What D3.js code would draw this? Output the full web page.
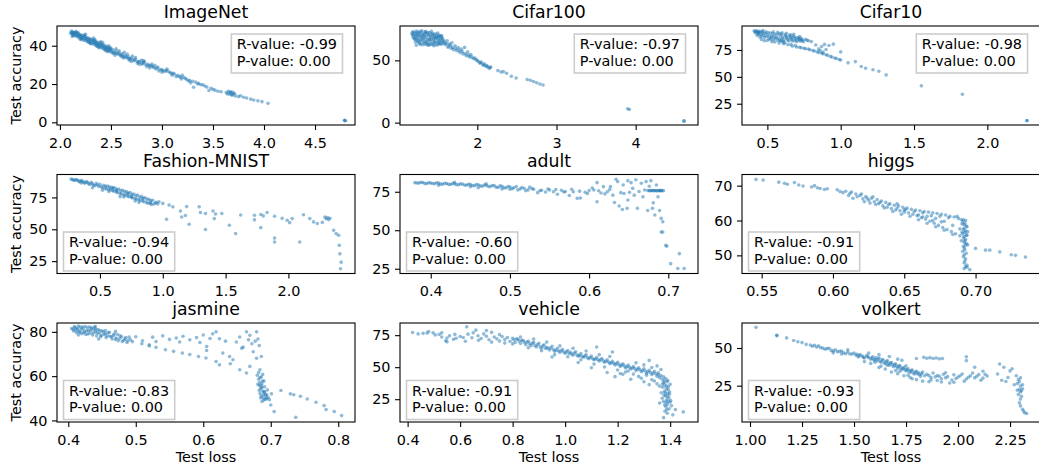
<!DOCTYPE html>
<html><head><meta charset="utf-8">
<script src="https://cdn.jsdelivr.net/npm/d3@7"></script>
<style>
html,body{margin:0;padding:0;background:#fff;}
svg{display:block;font-family:"DejaVu Sans",sans-serif;}
</style></head><body>
<svg id="chart" width="1039" height="465"></svg>
<script>
const titles = ["ImageNet","Cifar100","Cifar10","Fashion-MNIST","adult","higgs","jasmine","vehicle","volkert"];
const rValues = ["-0.99","-0.97","-0.98","-0.94","-0.60","-0.91","-0.83","-0.91","-0.93"];
const pValues = ["0.00","0.00","0.00","0.00","0.00","0.00","0.00","0.00","0.00"];

// [test loss, test accuracy]
const imagenet = [[2.11,47.2],[2.12,46.5],[2.13,47.0],[2.14,46.0],[2.15,46.8],[2.16,45.5],[2.17,46.3],[2.18,45.0],[2.19,46.0],[2.20,44.6],[2.21,45.6],[2.22,44.0],[2.23,45.2],[2.24,43.6],[2.25,44.8],[2.26,43.2],[2.27,44.2],[2.28,42.6],[2.29,43.8],[2.30,42.2],[2.31,43.4],[2.32,41.8],[2.33,42.8],[2.34,41.2],[2.35,42.4],[2.36,40.8],[2.37,41.8],[2.38,40.2],[2.39,41.4],[2.40,39.8],[2.41,40.9],[2.42,39.2],[2.43,40.4],[2.44,38.8],[2.45,39.8],[2.46,38.3],[2.47,39.3],[2.48,37.8],[2.49,38.8],[2.50,37.3],[2.52,37.9],[2.53,36.6],[2.55,37.2],[2.56,35.9],[2.58,36.4],[2.59,35.2],[2.61,35.8],[2.62,34.6],[2.64,35.0],[2.65,33.9],[2.67,34.3],[2.68,33.2],[2.70,33.6],[2.72,32.6],[2.74,32.9],[2.76,31.8],[2.78,31.9],[2.80,30.9],[2.82,31.2],[2.84,30.1],[2.86,30.3],[2.88,29.4],[2.90,29.5],[2.92,28.6],[2.95,28.4],[2.98,27.6],[3.00,27.5],[3.03,26.6],[3.06,26.6],[3.09,25.6],[3.12,25.2],[3.15,24.6],[3.18,23.6],[3.21,23.4],[3.24,22.4],[3.27,22.0],[3.31,18.3],[3.33,21.0],[3.36,20.4],[3.40,19.6],[3.44,18.4],[3.48,17.8],[3.52,16.8],[3.55,16.2],[3.63,15.6],[3.65,16.2],[3.66,14.8],[3.67,15.4],[3.68,14.4],[3.69,15.8],[3.70,14.9],[3.75,13.4],[3.77,13.9],[3.80,13.1],[3.83,12.7],[3.87,12.1],[3.90,11.6],[3.94,11.2],[3.98,10.8],[4.04,9.9],[4.79,0.9],[4.79,1.1],[4.80,0.8],
[2.13,45.4],[2.18,46.8],[2.21,43.5],[2.25,46.0],[2.28,41.8],[2.33,44.0],[2.36,39.8],[2.40,42.2],[2.44,37.8],[2.48,40.0],[2.52,36.0],[2.55,38.4],[2.60,34.4],[2.63,36.6],[2.68,32.4],[2.71,34.6],[2.76,30.8],[2.80,32.4],[2.85,29.0],[2.90,30.4],[2.97,26.8],[3.05,27.8],[3.14,23.8],[3.20,24.6],[3.30,21.4],[3.46,16.6],[3.58,16.0],
[2.105,46.4],[2.115,47.6],[2.125,45.8],[2.135,46.9],[2.145,45.2],[2.155,47.1],[2.165,44.8],[2.175,45.9],[2.185,44.2],[2.195,45.5],[2.205,43.9],[2.215,44.9],[2.225,43.0],[2.235,44.4],[2.245,42.7],[2.255,44.0],[2.265,42.3],[2.275,43.5],[2.285,41.7],[2.295,43.1],[2.305,41.2],[2.315,42.7],[2.325,40.9],[2.335,42.1],[2.345,40.4],[2.355,41.6],[2.365,39.8],[2.375,41.1],[2.385,39.3],[2.395,40.6],[2.405,38.9],[2.415,40.1],[2.425,38.4],[2.435,39.6],[2.445,37.9],[2.455,39.1],[2.465,37.4],[2.475,38.6],[2.485,36.9],[2.495,38.1],[2.51,36.6],[2.54,36.1],[2.57,35.6],[2.60,35.1],[2.63,34.1],[2.66,33.6],[2.69,33.0],[2.73,32.1],[2.77,31.4],[2.81,30.4],[2.83,31.6],[2.87,29.8],[2.91,29.0],[2.94,27.9],[2.96,28.9],[3.01,26.9],[3.04,27.2],[3.08,26.0],[3.11,25.6],[3.17,24.0],[3.23,23.0],[3.26,21.6],[3.35,20.0],[3.38,19.6],[3.42,19.0],[3.50,17.2],[3.64,14.8],[3.67,16.0],[3.69,14.2],[3.71,15.2],[3.72,13.8],
[2.12,44.8],[2.16,47.4],[2.20,43.2],[2.24,45.6],[2.30,41.0],[2.34,43.2],[2.38,39.0],[2.42,41.6],[2.46,37.0],[2.50,38.8],[2.54,35.0],[2.58,37.4],[2.62,33.6],[2.66,35.6],[2.70,31.8],[2.74,33.8],[2.78,30.2],[2.82,32.2],[2.88,28.4],[2.93,29.8],[3.00,26.2],[3.10,24.6],[3.19,22.6],[3.28,20.6]];

const cifar100 = [[1.18,70.5],[1.19,68.5],[1.20,72.5],[1.21,66.8],[1.22,70.0],[1.23,73.5],[1.24,68.0],[1.25,65.5],[1.26,71.5],[1.27,63.8],[1.28,69.2],[1.29,72.8],[1.30,66.5],[1.31,62.6],[1.32,70.4],[1.33,68.0],[1.34,73.0],[1.35,64.8],[1.36,71.8],[1.37,67.0],[1.38,62.2],[1.39,69.6],[1.40,72.2],[1.41,65.2],[1.42,68.4],[1.43,63.2],[1.44,71.0],[1.45,66.4],[1.46,69.8],[1.47,62.6],[1.48,67.6],[1.49,70.6],[1.50,64.6],[1.51,68.8],[1.52,66.0],[1.53,63.4],[1.54,69.4],[1.55,65.8],[1.56,67.4],[1.57,63.6],[1.22,64.5],[1.26,67.2],[1.30,73.8],[1.33,65.0],[1.36,63.4],[1.38,70.8],[1.42,73.4],[1.45,61.8],[1.50,72.0],[1.24,71.0],[1.28,62.8],[1.34,70.0],[1.40,67.4],[1.46,65.0],[1.52,70.2],
[1.60,62.5],[1.62,65.8],[1.63,60.5],[1.65,63.4],[1.67,59.8],[1.68,64.2],[1.70,58.6],[1.72,61.8],[1.74,57.8],[1.76,60.2],[1.78,56.4],[1.80,59.0],[1.82,55.2],[1.84,60.4],[1.86,53.8],[1.88,56.8],[1.90,52.8],[1.92,54.6],[1.95,51.6],[1.98,50.6],[2.01,49.2],[2.03,47.8],[2.05,48.6],[2.07,46.6],[2.09,47.2],[2.11,45.2],[2.13,44.8],[2.15,43.6],[2.17,44.6],[2.26,41.8],[2.30,40.6],[2.33,41.0],[2.37,39.6],[2.43,37.2],[2.49,35.8],[2.63,34.6],[2.67,34.0],[2.71,33.0],[2.75,32.0],[2.79,31.0],[2.83,30.2],[3.90,11.2],[3.92,10.6],[4.61,1.4],[4.61,1.2],
[1.175,71.8],[1.185,73.0],[1.195,70.0],[1.205,67.6],[1.215,71.6],[1.225,68.8],[1.235,66.2],[1.245,72.6],[1.255,69.6],[1.265,64.6],[1.275,70.8],[1.285,66.0],[1.295,68.2],[1.305,71.2],[1.315,64.2],[1.325,67.2],[1.335,71.8],[1.345,62.8],[1.355,68.8],[1.365,65.6],[1.375,72.4],[1.385,64.0],[1.395,66.6],[1.405,70.2],[1.415,62.8],[1.425,66.8],[1.435,69.6],[1.445,64.0],[1.455,67.8],[1.465,71.4],[1.475,64.8],[1.485,68.4],[1.495,62.4],[1.505,66.8],[1.515,69.4],[1.525,64.6],[1.535,67.6],[1.545,63.0],[1.555,68.2],[1.565,65.2],[1.23,62.2],[1.27,73.2],[1.31,69.4],[1.35,73.2],[1.39,62.4],[1.43,71.6],[1.47,68.8],[1.51,63.2],[1.55,70.0],[1.58,66.0],[1.59,64.2],[1.61,63.6],[1.64,61.6],[1.66,62.2],[1.69,60.4],[1.73,59.6],[1.77,58.0],[1.81,57.0],[1.85,55.4],[1.89,54.2],[1.93,52.6],[1.97,51.8],[2.00,50.0],[2.04,48.0],[2.08,46.0],[2.12,45.8],[2.16,44.2]];

const cifar10 = [[0.41,92.8],[0.42,91.0],[0.43,92.2],[0.44,89.5],[0.45,91.6],[0.46,88.0],[0.47,90.6],[0.48,86.5],[0.49,91.8],[0.50,89.0],[0.51,85.4],[0.52,90.8],[0.53,87.6],[0.54,84.6],[0.55,89.8],[0.56,86.6],[0.57,83.8],[0.58,90.2],[0.59,88.2],[0.60,85.6],[0.61,82.8],[0.62,89.4],[0.63,87.0],[0.64,84.4],[0.65,88.6],[0.66,86.0],[0.67,83.4],[0.68,87.8],[0.69,85.2],[0.70,82.6],[0.71,86.6],[0.72,84.4],[0.73,85.8],[0.74,83.8],[0.45,86.8],[0.48,83.6],[0.52,85.0],[0.55,82.4],[0.43,88.6],[0.47,93.0],[0.57,91.4],[0.63,90.6],[0.68,89.6],[0.60,83.0],
[0.58,81.4],[0.61,80.8],[0.64,79.8],[0.67,78.6],[0.70,77.8],[0.73,77.0],[0.76,76.2],[0.79,75.2],[0.82,74.0],[0.85,72.6],[0.88,71.4],[0.91,70.0],[0.94,68.4],[0.97,67.0],[1.00,65.6],
[0.77,84.0],[0.80,82.8],[0.83,79.6],[0.85,76.0],[0.86,74.4],[0.87,78.2],[0.88,73.0],[0.89,80.2],[0.90,75.4],[0.92,79.2],[0.95,80.4],[1.00,73.2],[1.05,63.0],[1.10,64.2],[1.14,59.6],[1.17,58.0],[1.22,56.6],[1.26,55.2],[1.31,51.8],[1.55,41.6],[1.83,33.8],[2.27,9.4],[2.27,9.2],
[0.415,91.8],[0.425,92.8],[0.435,90.8],[0.445,92.4],[0.455,89.6],[0.465,92.0],[0.475,88.4],[0.485,90.4],[0.495,87.6],[0.505,91.2],[0.515,88.0],[0.525,86.4],[0.535,90.0],[0.545,87.4],[0.555,85.6],[0.565,89.2],[0.575,86.2],[0.585,84.4],[0.595,89.8],[0.605,87.0],[0.615,84.8],[0.625,88.0],[0.635,85.8],[0.645,83.4],[0.655,87.2],[0.665,84.8],[0.675,86.6],[0.685,83.6],[0.695,86.4],[0.705,84.2],[0.715,85.4],[0.725,83.2],[0.735,84.8],[0.745,82.6],[0.46,84.8],[0.50,83.8],[0.53,82.6],[0.59,83.6],[0.44,91.4],[0.54,92.0],[0.60,91.0],[0.66,89.0],[0.72,87.6],[0.76,85.0],[0.78,83.6],[0.62,81.6],[0.66,80.0],[0.69,79.0],[0.72,77.6],[0.75,76.6],[0.78,75.8],[0.81,74.4],[0.84,73.2],[0.87,72.0],[0.90,70.6],[0.93,69.0],[0.96,67.6],[0.99,66.2]];

const fashion = [[0.27,89.4],[0.29,88.6],[0.31,89.0],[0.33,87.8],[0.35,88.2],[0.37,86.8],[0.39,87.4],[0.41,85.8],[0.43,86.8],[0.45,84.6],[0.47,86.0],[0.49,83.6],[0.50,85.4],[0.52,82.6],[0.53,84.6],[0.55,81.6],[0.56,84.0],[0.58,80.8],[0.59,83.0],[0.61,79.8],[0.62,82.4],[0.64,78.8],[0.65,81.6],[0.67,77.8],[0.68,80.6],[0.70,76.8],[0.71,79.6],[0.73,75.6],[0.74,78.8],[0.76,74.6],[0.77,77.6],[0.79,73.6],[0.80,76.8],[0.82,72.6],[0.83,75.8],[0.85,71.6],[0.86,74.8],[0.88,70.4],[0.89,73.6],[0.91,69.4],[0.92,72.8],[0.94,70.6],[0.96,69.8],[0.44,82.6],[0.52,80.6],[0.60,81.8],[0.66,75.6],[0.72,78.0],[0.78,72.2],[0.84,74.0],[0.90,71.2],[0.35,86.4],[0.63,80.4],[0.75,76.0],
[1.00,70.3],[1.05,69.0],[1.08,67.6],[1.03,57.9],[1.14,64.4],[1.15,59.7],[1.19,67.8],[1.18,60.8],[1.21,54.0],[1.29,67.6],[1.30,63.2],[1.34,62.4],[1.34,49.8],[1.40,64.4],[1.41,58.4],[1.42,62.0],[1.47,62.4],[1.53,53.2],[1.58,46.6],[1.62,61.2],[1.73,61.0],[1.73,57.4],[1.78,51.3],[1.78,61.6],[1.80,60.5],[1.83,63.2],[1.89,60.2],[1.89,43.1],[1.89,40.0],[1.95,58.6],[1.99,57.1],[2.01,55.2],[2.03,58.4],[2.09,40.0],[2.12,61.4],[2.17,58.4],[2.20,55.8],[2.23,54.6],[2.27,55.4],[2.29,59.7],[2.30,58.2],[2.31,59.2],[2.32,57.6],[2.33,58.6],[2.36,49.2],[2.38,46.6],[2.40,45.3],[2.405,37.4],[2.41,30.8],[2.42,24.2],[2.415,19.0],
[0.28,89.0],[0.30,88.4],[0.32,88.6],[0.34,87.4],[0.36,87.8],[0.38,86.2],[0.40,86.8],[0.42,85.2],[0.44,85.8],[0.46,84.2],[0.48,85.0],[0.51,83.4],[0.54,82.2],[0.545,83.8],[0.57,81.4],[0.575,83.2],[0.60,80.4],[0.605,82.8],[0.63,79.2],[0.635,81.2],[0.66,78.2],[0.665,80.2],[0.69,77.2],[0.695,79.6],[0.72,76.2],[0.725,78.4],[0.75,75.2],[0.755,77.4],[0.78,74.2],[0.785,76.4],[0.81,73.2],[0.815,75.2],[0.84,72.2],[0.845,74.6],[0.87,71.2],[0.875,73.6],[0.90,70.2],[0.905,72.4],[0.93,69.8],[0.95,71.2],[0.97,71.6],[0.57,79.6],[0.69,75.4],[0.81,71.0]];

const adult = [[0.38,80.9],[0.385,80.6],[0.39,81.0],[0.395,80.4],[0.40,80.7],[0.405,80.2],[0.41,80.6],[0.415,79.9],[0.42,80.4],[0.425,79.7],[0.43,80.2],[0.435,79.5],[0.44,80.0],[0.445,79.2],[0.45,79.8],[0.455,78.9],[0.46,79.5],[0.465,78.6],[0.47,79.2],[0.475,78.2],[0.48,79.0],[0.485,77.8],[0.49,78.6],[0.495,77.4],[0.50,78.2],[0.50,76.6],[0.505,77.6],[0.51,76.2],[0.515,77.8],[0.52,75.6],[0.525,78.0],[0.53,76.6],[0.535,74.4],[0.54,76.0],[0.545,74.8],[0.55,76.2],[0.555,75.0],[0.56,73.4],[0.565,76.0],[0.57,75.2],[0.575,72.6],[0.58,75.0],[0.585,70.7],[0.589,70.9],[0.595,74.6],[0.60,75.8],[0.606,76.1],[0.61,80.9],[0.61,68.5],[0.615,74.2],[0.618,78.3],[0.623,75.0],[0.627,78.3],[0.63,72.8],[0.632,68.0],[0.634,83.1],[0.636,81.6],[0.638,65.7],[0.64,74.4],[0.642,63.5],[0.643,79.4],[0.644,73.9],[0.648,64.2],[0.649,82.2],[0.649,69.6],[0.653,80.9],[0.655,77.2],[0.657,72.8],[0.661,64.2],[0.666,80.5],[0.668,71.7],[0.67,76.1],[0.672,81.6],[0.674,62.8],[0.676,75.7],[0.678,82.2],[0.679,75.8],[0.68,64.2],[0.682,75.7],[0.683,59.9],[0.685,79.4],[0.685,75.6],[0.687,71.7],[0.688,75.8],[0.689,62.8],[0.69,75.7],[0.691,57.7],[0.692,75.6],[0.693,55.5],[0.691,48.9],[0.693,48.8],[0.697,40.2],[0.698,39.6],[0.703,28.3],[0.714,34.8],[0.712,25.1],[0.720,25.1],
[0.41,79.2],[0.43,81.2],[0.45,78.2],[0.47,80.2],[0.49,76.8],[0.46,77.6],
[0.3825,80.7],[0.3875,81.1],[0.3925,80.3],[0.3975,80.9],[0.4025,80.4],[0.4075,80.8],[0.4125,80.0],[0.4175,80.5],[0.4225,79.8],[0.4275,80.3],[0.4325,79.6],[0.4375,80.1],[0.4425,79.4],[0.4475,79.9],[0.4525,79.0],[0.4575,79.6],[0.4625,78.8],[0.4675,79.3],[0.4725,78.5],[0.4775,79.1],[0.4825,78.0],[0.4875,78.8],[0.4925,77.6],[0.4975,78.4],[0.503,77.0],[0.508,78.4],[0.513,76.8],[0.518,77.2],[0.523,76.2],[0.528,77.0],[0.538,75.6],[0.548,76.8],[0.558,76.4],[0.568,74.8],[0.578,76.6],[0.588,75.4],[0.598,73.8],[0.604,77.4],[0.612,75.6],[0.62,73.6],[0.626,76.4],[0.674,75.8],[0.677,75.6],[0.680,75.7],[0.683,75.8],[0.686,75.7],[0.689,75.6],[0.691,75.8],[0.694,75.7],[0.681,67.8],[0.676,78.6],[0.663,75.2],[0.651,74.6],[0.659,82.8]];

const higgs = [[0.546,71.8],[0.551,71.6],[0.562,71.0],[0.566,70.7],[0.568,70.4],[0.573,70.9],[0.576,70.2],[0.579,69.9],[0.585,69.6],[0.587,70.0],[0.589,69.4],[0.591,69.2],[0.594,68.9],[0.596,69.1],[0.603,68.8],[0.605,68.3],[0.607,68.0],[0.609,68.4],[0.612,67.8],[0.614,66.4],[0.616,67.6],[0.619,67.2],[0.621,66.2],[0.623,66.9],[0.625,65.8],[0.627,66.4],[0.629,65.4],[0.631,66.0],[0.632,64.8],[0.634,65.6],[0.635,64.2],[0.637,65.2],[0.638,63.8],[0.640,64.8],[0.641,63.4],[0.643,64.4],[0.644,63.0],[0.646,64.2],[0.647,62.8],[0.649,63.8],[0.650,62.4],[0.652,63.6],[0.653,62.2],[0.655,63.2],[0.656,61.8],[0.658,63.0],[0.659,61.4],[0.661,62.8],[0.662,60.8],[0.664,62.6],[0.665,60.4],[0.667,62.4],[0.668,59.8],[0.670,62.2],[0.671,59.2],[0.673,62.0],[0.674,58.6],[0.676,61.8],[0.677,58.0],[0.679,61.6],[0.680,57.4],[0.682,61.2],[0.683,56.8],[0.685,61.0],[0.686,56.2],[0.688,60.6],[0.689,55.6],[0.690,60.2],[0.672,60.6],[0.678,59.8],[0.684,58.6],[0.660,60.2],[0.666,61.2],
[0.691,59.6],[0.692,58.8],[0.693,60.0],[0.692,57.8],[0.693,57.0],[0.691,56.2],[0.692,55.4],[0.693,54.6],[0.692,53.8],[0.693,53.0],[0.692,52.2],[0.691,51.2],[0.692,50.2],[0.693,49.0],[0.692,47.8],[0.693,46.8],[0.692,46.2],[0.694,46.6],[0.696,45.9],[0.694,55.8],[0.694,58.2],[0.690,54.2],
[0.700,52.0],[0.707,51.5],[0.710,51.5],[0.717,51.0],[0.725,50.2],[0.728,50.0],[0.735,49.5],
[0.611,67.2],[0.613,68.2],[0.617,66.8],[0.620,67.6],[0.622,65.4],[0.624,66.4],[0.626,65.0],[0.628,66.8],[0.630,64.6],[0.633,65.2],[0.636,63.6],[0.639,64.6],[0.642,62.6],[0.645,63.6],[0.648,61.8],[0.651,63.2],[0.654,61.2],[0.657,62.6],[0.660,61.6],[0.663,62.2],[0.666,59.2],[0.669,61.4],[0.672,58.2],[0.675,61.2],[0.678,57.2],[0.681,60.8],[0.684,56.0],[0.687,61.2],[0.689,57.6],[0.670,60.0],[0.676,59.6],[0.663,61.0],[0.650,63.0],[0.645,64.8],
[0.6915,60.2],[0.6925,59.2],[0.6935,58.4],[0.6915,57.4],[0.6925,56.6],[0.6935,55.8],[0.6915,55.0],[0.6925,54.2],[0.6935,53.4],[0.6915,52.6],[0.6925,51.6],[0.6935,50.6],[0.6915,49.6],[0.6925,48.4],[0.694,47.2],[0.6905,59.0],[0.6905,56.6],[0.6945,53.0],[0.6945,56.8]];

const jasmine = [[0.405,81.5],[0.408,80.4],[0.410,82.0],[0.412,79.6],[0.414,81.0],[0.416,80.0],[0.418,82.2],[0.420,79.2],[0.422,81.4],[0.424,80.2],[0.426,78.8],[0.428,81.8],[0.430,80.6],[0.432,79.4],[0.434,82.0],[0.436,78.6],[0.438,81.2],[0.440,80.0],[0.442,78.2],[0.444,81.0],[0.446,79.4],[0.448,77.8],[0.450,80.4],[0.453,78.8],[0.456,77.4],[0.459,79.6],[0.462,78.0],[0.465,76.8],[0.468,79.0],[0.471,77.2],[0.474,76.0],[0.477,78.2],[0.480,75.6],[0.484,76.8],[0.487,75.2],[0.490,77.6],[0.425,82.4],[0.415,78.6],[0.440,82.4],[0.455,80.6],[0.470,80.2],[0.445,76.8],
[0.50,77.8],[0.51,76.0],[0.52,74.2],[0.525,77.6],[0.53,75.6],[0.54,78.2],[0.55,76.6],[0.56,77.2],[0.565,75.4],[0.57,78.0],[0.58,76.4],[0.59,77.4],[0.595,75.2],[0.60,78.6],[0.605,73.4],[0.61,77.0],[0.614,79.1],[0.619,80.0],[0.624,76.9],[0.629,70.4],[0.633,75.8],[0.639,68.9],[0.644,67.4],[0.649,75.4],[0.654,77.7],[0.657,72.6],[0.659,73.1],[0.664,80.0],[0.667,76.4],[0.669,78.5],[0.672,74.6],[0.674,71.0],[0.677,75.8],[0.679,80.0],[0.681,76.8],[0.683,73.8],
[0.509,74.6],[0.52,73.6],[0.53,73.0],[0.544,71.9],[0.556,71.2],[0.569,70.4],[0.58,69.8],[0.593,68.9],[0.604,68.2],[0.619,66.6],[0.624,65.1],[0.64,65.6],[0.605,71.6],
[0.654,62.9],[0.664,61.4],[0.669,64.4],[0.679,68.1],[0.686,68.9],[0.684,62.9],[0.680,60.4],[0.682,58.6],[0.684,57.2],[0.686,59.6],[0.683,55.8],[0.685,54.4],[0.687,56.6],[0.688,53.2],[0.684,52.2],[0.686,51.0],[0.689,50.2],[0.690,52.8],[0.691,55.2],[0.692,49.6],[0.694,51.6],[0.695,53.8],[0.687,48.6],[0.690,57.8],[0.696,50.4],[0.698,49.4],[0.700,47.0],[0.701,52.0],[0.682,61.6],[0.688,60.8],
[0.715,53.5],[0.729,52.0],[0.734,51.6],[0.744,50.9],[0.754,49.7],[0.767,48.2],[0.779,46.7],[0.782,44.9],[0.794,44.0],[0.805,42.2],[0.737,41.4],[0.705,44.0],
[0.407,81.2],[0.409,82.4],[0.411,80.8],[0.413,81.6],[0.415,82.6],[0.417,79.8],[0.419,81.0],[0.421,82.2],[0.423,79.6],[0.427,80.4],[0.429,79.0],[0.431,82.2],[0.433,80.6],[0.435,81.4],[0.437,79.6],[0.439,82.2],[0.441,81.2],[0.443,79.6],[0.447,80.6],[0.449,78.4],[0.452,80.0],[0.455,79.2],[0.458,78.2],[0.461,79.8],[0.464,77.8],[0.467,78.4],[0.470,76.6],[0.473,78.8],[0.476,77.0],[0.479,77.8],[0.482,76.2],[0.485,77.4],[0.488,76.0],[0.492,76.4],[0.495,75.6],
[0.683,53.6],[0.685,50.2],[0.687,54.8],[0.689,51.6],[0.691,53.0],[0.693,50.8],[0.686,55.6],[0.688,57.8],[0.684,59.4],[0.690,49.2],[0.692,51.8],[0.694,49.8],[0.681,56.4]];

const vehicle = [[0.419,77.1],[0.459,76.4],[0.474,76.6],[0.497,76.8],[0.505,75.2],[0.52,75.6],[0.53,73.6],[0.545,70.6],[0.55,72.8],[0.56,74.6],[0.575,71.8],[0.585,72.6],[0.60,74.0],[0.612,73.2],[0.625,81.5],[0.63,75.8],[0.645,73.0],[0.66,78.9],[0.668,74.6],[0.68,72.4],[0.69,76.0],[0.70,74.2],[0.71,71.4],[0.72,77.2],[0.73,73.6],[0.74,72.2],[0.75,70.4],[0.76,74.0],[0.77,71.6],[0.78,73.2],[0.79,70.2],[0.80,72.6],[0.81,69.4],[0.82,71.8],[0.83,68.6],[0.84,70.8],[0.85,67.6],[0.86,70.2],[0.87,66.8],[0.88,69.4],[0.89,65.8],[0.90,68.6],[0.91,64.8],[0.92,67.4],[0.93,65.6],[0.94,63.4],[0.95,66.4],[0.96,62.4],[0.97,64.8],[0.98,61.6],[0.99,63.8],[1.00,60.8],[1.01,63.0],[1.02,61.6],[1.03,59.4],[1.04,62.0],[1.05,58.6],[1.06,60.6],[1.07,57.8],[1.08,59.6],[1.09,56.6],[1.10,58.6],[1.11,55.8],[1.12,65.8],[1.12,57.6],[1.13,54.8],[1.14,56.8],[1.15,53.8],[1.16,55.8],[1.17,52.8],[1.18,61.8],[1.18,54.6],[1.19,51.8],[1.20,53.8],[1.21,50.6],[1.22,52.6],[1.23,49.4],[1.24,51.6],[1.25,48.6],[1.26,50.4],[1.27,47.2],[1.28,49.6],[1.29,46.4],[1.30,48.8],[1.31,45.2],[1.32,55.3],[1.32,47.6],[1.33,44.2],[1.34,46.8],[1.35,43.0],[1.355,45.6],[1.36,41.8],[1.365,48.2],
[1.16,45.8],[1.19,42.6],[1.22,44.4],[1.25,40.6],[1.28,42.8],[1.30,38.6],[1.33,40.2],[1.35,37.0],[1.10,49.6],[1.05,53.6],[0.95,58.0],
[1.37,40.4],[1.375,38.0],[1.38,36.2],[1.372,34.4],[1.385,33.0],[1.378,31.2],[1.39,29.4],[1.382,27.6],[1.395,26.0],[1.386,24.4],[1.40,22.6],[1.39,21.0],[1.384,19.2],[1.396,17.6],[1.38,15.6],[1.375,10.6],[1.40,36.6],[1.392,32.4],[1.397,28.8],[1.388,38.6],[1.37,25.8],[1.402,24.0],[1.405,19.8],[1.42,17.0],[1.45,15.1],[1.41,12.8],[1.366,30.0],[1.36,22.0],
[0.805,71.4],[0.815,72.2],[0.825,70.4],[0.835,71.0],[0.845,69.4],[0.855,69.6],[0.865,68.2],[0.875,68.6],[0.885,67.0],[0.895,67.6],[0.905,66.0],[0.915,66.6],[0.925,64.6],[0.935,64.8],[0.945,65.0],[0.955,63.8],[0.965,63.2],[0.975,62.6],[0.985,62.8],[0.995,61.8],[1.005,62.0],[1.015,60.6],[1.025,60.2],[1.035,61.0],[1.045,59.6],[1.055,59.2],[1.065,58.4],[1.075,58.8],[1.085,57.4],[1.095,57.6],[1.105,56.6],[1.115,56.4],[1.125,55.8],[1.135,55.8],[1.145,55.0],[1.155,54.6],[1.165,54.0],[1.175,53.4],[1.185,53.0],[1.195,52.6],[1.205,52.0],[1.215,51.6],[1.225,51.0],[1.235,50.4],[1.245,50.0],[1.255,49.4],[1.265,49.0],[1.275,48.4],[1.285,48.0],[1.295,47.4],[1.305,47.0],[1.315,46.4],[1.325,45.8],[1.335,45.4],[1.345,44.8],[1.355,44.0],[1.365,43.4],[1.375,42.4],[1.383,41.2],[1.391,39.6],[1.378,39.2],[1.386,35.2],[1.393,34.6],[1.381,30.0],[1.389,27.0],[1.376,28.2],[1.384,22.4],[1.392,23.4],[1.379,20.4],[1.387,17.0],[1.374,23.2],[1.398,30.6],[1.371,36.8],[1.389,14.0],
[0.44,76.0],[0.48,77.8],[0.53,76.8],[0.55,69.8],[0.58,75.6],[0.62,70.2],[0.65,76.8],[0.67,71.0],[0.70,78.6],[0.72,69.6],[0.75,75.4],[0.77,68.8],[0.80,68.2],[0.83,73.6],[0.86,65.2],[0.88,72.0],[0.91,62.8],[0.93,69.6],[0.96,59.8],[0.98,66.6],[1.01,58.2],[1.03,64.8],[1.06,55.8],[1.08,62.6],[1.11,52.4],[1.13,59.8],[1.15,50.2],[1.17,58.4],[1.20,47.8],[1.23,46.2],[1.26,44.6],[1.27,53.4],[1.29,41.4],[1.31,43.8],[1.32,36.4],[1.34,39.2],[1.36,35.2],[1.30,51.8],[1.33,49.8],[1.35,51.0],[1.24,47.0],[1.21,45.0]];

const volkert = [[1.029,63.7],[1.128,58.5],[1.130,58.2],[1.176,56.7],[1.21,55.0],[1.23,54.2],[1.25,53.6],[1.27,52.4],[1.29,52.0],[1.30,51.2],[1.32,50.6],[1.33,51.4],[1.35,50.0],[1.36,49.2],[1.38,49.8],[1.39,48.4],[1.41,48.8],[1.42,47.6],[1.44,48.0],[1.45,46.8],[1.47,47.4],[1.48,46.0],[1.50,46.6],[1.51,45.2],[1.52,44.0],[1.53,45.6],[1.54,44.6],[1.55,43.4],[1.56,45.0],[1.57,43.8],[1.58,42.6],[1.59,44.2],[1.60,42.4],[1.61,41.4],[1.62,43.4],[1.63,40.6],[1.64,42.0],[1.65,39.6],[1.66,41.6],[1.67,38.6],[1.68,40.4],[1.69,37.6],[1.70,39.6],[1.71,36.6],[1.72,38.4],[1.73,35.6],[1.74,37.2],[1.75,34.8],[1.76,36.4],[1.77,33.8],[1.78,35.4],[1.79,32.8],[1.80,34.6],[1.81,33.6],[1.82,31.2],[1.83,34.0],[1.85,32.6],[1.87,30.4],[1.88,33.4],[1.90,31.8],[1.92,29.6],[1.93,32.6],[1.95,31.0],[1.97,28.8],[1.98,32.2],[2.00,30.8],[2.02,32.8],[2.04,29.4],[2.06,31.6],[2.08,30.2],[2.10,32.4],[2.12,30.0],[2.14,31.4],
[1.835,43.8],[1.85,43.2],[1.865,43.6],[1.88,43.0],[1.895,43.4],[1.91,42.8],[1.925,43.0],[1.80,43.0],[1.73,41.8],
[1.63,38.0],[1.70,35.0],[1.76,32.0],[1.78,29.6],[1.86,27.6],[1.90,28.4],[1.96,26.8],[2.04,44.2],[2.04,41.6],[2.08,37.2],[2.12,34.6],[2.20,39.4],[2.22,37.2],[2.19,32.8],[2.21,28.6],[2.24,30.4],[2.25,34.8],[2.26,36.2],[2.27,25.6],[2.23,27.8],
[2.28,31.6],[2.29,29.0],[2.285,26.4],[2.30,24.8],[2.295,22.6],[2.30,20.8],[2.31,23.0],[2.29,19.2],[2.30,16.1],[2.295,13.6],[2.30,11.6],[2.31,9.4],[2.315,8.2],[2.33,6.5],[2.32,7.0],[2.305,18.0],
[1.31,51.8],[1.34,50.2],[1.37,49.6],[1.40,48.0],[1.43,47.8],[1.46,46.2],[1.49,46.0],[1.515,45.8],[1.525,44.8],[1.545,43.8],[1.565,44.2],[1.585,43.2],[1.595,42.0],[1.605,43.6],[1.615,42.6],[1.625,41.2],[1.635,42.4],[1.645,40.2],[1.655,41.0],[1.665,39.8],[1.675,40.0],[1.685,38.8],[1.695,38.8],[1.705,37.8],[1.715,38.0],[1.725,36.8],[1.735,36.4],[1.745,35.8],[1.755,35.6],[1.765,34.6],[1.775,35.0],[1.785,33.4],[1.795,34.0],[1.805,32.8],[1.815,32.4],[1.825,33.0],[1.84,31.6],[1.86,31.8],[1.89,30.8],[1.91,31.2],[1.94,30.2],[1.99,29.8],[2.01,31.6],[2.05,30.6],[2.09,31.2],[2.13,32.6],[1.60,40.6],[1.66,38.6],[1.72,34.6],[2.285,22.0],[2.295,27.6],[2.30,30.2],[2.305,21.6],[2.31,25.6],
[1.55,41.0],[1.58,39.8],[1.62,37.0],[1.65,36.0],[1.68,34.0],[1.71,33.0],[1.74,31.6],[1.77,30.4],[1.80,29.0],[1.83,28.0],[1.87,28.8],[1.92,27.4],[1.94,33.6],[1.98,27.2],[2.03,28.0],[2.07,33.4],[2.11,28.6],[1.67,44.4],[1.71,42.6],[1.62,45.6],[1.57,46.6],[1.47,48.8],[1.44,46.0],[1.40,46.8],[1.75,38.2]];

// tick labels
const imagenetXTicks = ["2.0","2.5","3.0","3.5","4.0","4.5"], imagenetYTicks = ["0","20","40"];
const cifar100XTicks = ["2","3","4"], cifar100YTicks = ["0","50"];
const cifar10XTicks = ["0.5","1.0","1.5","2.0"], cifar10YTicks = ["25","50","75"];
const fashionXTicks = ["0.5","1.0","1.5","2.0"], fashionYTicks = ["25","50","75"];
const adultXTicks = ["0.4","0.5","0.6","0.7"], adultYTicks = ["25","50","75"];
const higgsXTicks = ["0.55","0.60","0.65","0.70"], higgsYTicks = ["50","60","70"];
const jasmineXTicks = ["0.4","0.5","0.6","0.7","0.8"], jasmineYTicks = ["40","60","80"];
const vehicleXTicks = ["0.4","0.6","0.8","1.0","1.2","1.4"], vehicleYTicks = ["25","50","75"];
const volkertXTicks = ["1.00","1.25","1.50","1.75","2.00","2.25"], volkertYTicks = ["25","50"];

// axis ranges
const xDomains = [[1.971,4.892],[1.024,4.787],[0.327,2.359],[0.158,2.530],[0.3612,0.7375],[0.5362,0.7452],[0.3833,0.8248],[0.371,1.506],[0.9615,2.394]];
const yDomains = [[-1.4,50.3],[-1.9,77.6],[5.2,97.3],[15.3,93.0],[21.9,86.2],[44.8,73.2],[39.3,84.0],[7.2,84.5],[0.9,66.6]];

const datasets = [imagenet,cifar100,cifar10,fashion,adult,higgs,jasmine,vehicle,volkert];
const xTickSets = [imagenetXTicks,cifar100XTicks,cifar10XTicks,fashionXTicks,adultXTicks,higgsXTicks,jasmineXTicks,vehicleXTicks,volkertXTicks];
const yTickSets = [imagenetYTicks,cifar100YTicks,cifar10YTicks,fashionYTicks,adultYTicks,higgsYTicks,jasmineYTicks,vehicleYTicks,volkertYTicks];

const svg = d3.select("#chart");
const colLeft = [57, 400, 742], rowTop = [26, 174.5, 323], W = 298, H = 99;
const FS = 14.4;

datasets.forEach((data, i) => {
  const c = i % 3, r = Math.floor(i / 3);
  const g = svg.append("g").attr("transform", `translate(${colLeft[c]},${rowTop[r]})`);
  const x = d3.scaleLinear().domain(xDomains[i]).range([0, W]);
  const y = d3.scaleLinear().domain(yDomains[i]).range([H, 0]);

  g.append("clipPath").attr("id", "clip" + i).append("rect").attr("width", W).attr("height", H);
  g.append("g").attr("clip-path", `url(#clip${i})`)
    .selectAll("circle").data(data).join("circle")
    .attr("cx", d => x(d[0])).attr("cy", d => y(d[1])).attr("r", 1.8)
    .attr("fill", "#1f77b4").attr("fill-opacity", 0.5);

  const xt = xTickSets[i], yt = yTickSets[i];
  const xa = g.append("g").attr("transform", `translate(0,${H})`)
    .call(d3.axisBottom(x).tickValues(xt.map(Number)).tickFormat((d, j) => xt[j]).tickSize(5).tickPadding(7.3));
  const ya = g.append("g")
    .call(d3.axisLeft(y).tickValues(yt.map(Number)).tickFormat((d, j) => yt[j]).tickSize(5).tickPadding(4.5));
  [xa, ya].forEach(a => {
    a.attr("font-size", null).attr("font-family", null);
    a.select(".domain").remove();
    a.selectAll("line").attr("stroke", "#000").attr("stroke-width", 1.1);
    a.selectAll("text").attr("fill", "#000").style("font-size", FS + "px");
  });

  g.append("rect").attr("width", W).attr("height", H).attr("fill", "none")
    .attr("stroke", "#000").attr("stroke-width", 1.1);

  g.append("text").attr("x", W / 2).attr("y", -7.7).attr("text-anchor", "middle")
    .style("font-size", "17.3px").attr("fill", "#000").text(titles[i]);

  // stats box
  const bx = g.append("g");
  const t1 = bx.append("text").style("font-size", FS + "px").attr("fill", "#000").text("R-value: " + rValues[i]);
  const t2 = bx.append("text").style("font-size", FS + "px").attr("fill", "#000").text("P-value: " + pValues[i]);
  const tw = Math.max(t1.node().getComputedTextLength(), t2.node().getComputedTextLength());
  const bw = tw + 11, bh = 39;
  let rx, ry;
  if (r === 0) { rx = W - 12.5 - bw; ry = 8; } else { rx = 6.5; ry = H - 2.5 - bh; }
  bx.insert("rect", "text").attr("x", rx).attr("y", ry).attr("width", bw).attr("height", bh)
    .attr("fill", "#fff").attr("fill-opacity", 0.8).attr("stroke", "#cccccc").attr("stroke-width", 1.6);
  t1.attr("x", rx + 5.5).attr("y", ry + 15.3);
  t2.attr("x", rx + 5.5).attr("y", ry + 31.8);
});

// axis labels
rowTop.forEach(t => {
  svg.append("text").attr("transform", `translate(20.5,${t + H / 2}) rotate(-90)`)
    .attr("text-anchor", "middle").style("font-size", FS + "px").attr("fill", "#000").text("Test accuracy");
});
colLeft.forEach(l => {
  svg.append("text").attr("x", l + W / 2).attr("y", 462).attr("text-anchor", "middle")
    .style("font-size", FS + "px").attr("fill", "#000").text("Test loss");
});
</script>
</body></html>
